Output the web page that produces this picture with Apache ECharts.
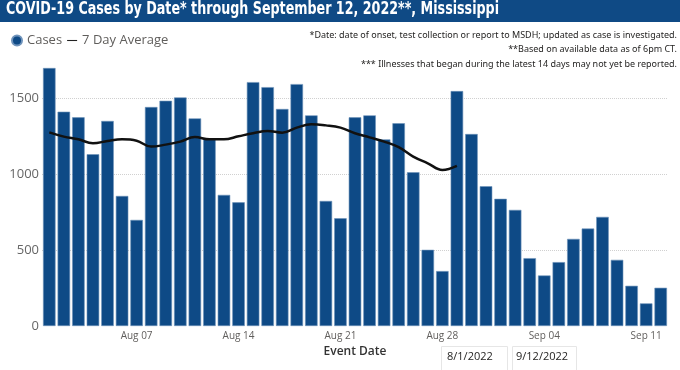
<!DOCTYPE html>
<html><head><meta charset="utf-8">
<script src="https://cdn.jsdelivr.net/npm/echarts@6/dist/echarts.min.js"></script>
<style>html,body{margin:0;padding:0;background:#fff}#c{width:680px;height:370px}</style>
</head><body><div id="c"></div>
<script>
const dates = ['Aug 01','Aug 02','Aug 03','Aug 04','Aug 05','Aug 06','Aug 07','Aug 08','Aug 09','Aug 10','Aug 11','Aug 12','Aug 13','Aug 14','Aug 15','Aug 16','Aug 17','Aug 18','Aug 19','Aug 20','Aug 21','Aug 22','Aug 23','Aug 24','Aug 25','Aug 26','Aug 27','Aug 28','Aug 29','Aug 30','Aug 31','Sep 01','Sep 02','Sep 03','Sep 04','Sep 05','Sep 06','Sep 07','Sep 08','Sep 09','Sep 10','Sep 11','Sep 12'];
const cases = [1700,1412,1375,1132,1351,857,699,1443,1484,1506,1368,1230,864,815,1607,1574,1430,1594,1388,824,710,1375,1388,1230,1336,1013,502,362,1548,1265,921,838,765,447,333,421,574,642,719,436,265,149,252];
const avg7 = [1276,1248,1230,1204,1219,1230,1221,1182,1195,1215,1245,1230,1230,1250,1270,1285,1274,1307,1329,1322,1307,1270,1243,1215,1178,1116,1072,1028,1055];
const tickLabels = ['Aug 07','Aug 14','Aug 21','Aug 28','Sep 04','Sep 11'];
const yTicks = [0,500,1000,1500];
const titleText = 'COVID-19 Cases by Date* through September 12, 2022**, Mississippi';
const notes = ['*Date: date of onset, test collection or report to MSDH; updated as case is investigated.','**Based on available data as of 6pm CT.','*** Illnesses that began during the latest 14 days may not yet be reported.'];
const dateRange = ['8/1/2022','9/12/2022'];

const chart = echarts.init(document.getElementById('c'), null, {renderer:'canvas'});
const barColor = '#0e4a86';
chart.setOption({
  animation:false,
  grid:{left:42,right:12,top:68,bottom:44},
  legend:{
    left:6, top:29, itemGap:5, itemWidth:10, itemHeight:10,
    textStyle:{color:'#605e5c', fontSize:13, fontFamily:'Open Sans'},
    data:[
      {name:'Cases', icon:'circle', itemStyle:{color:barColor}},
      {name:'7 Day Average', icon:'path://M0,4H14V5.5H0Z', itemStyle:{color:'#222'}}
    ]
  },
  xAxis:{
    type:'category', data:dates,
    name:'Event Date', nameLocation:'middle', nameGap:20,
    nameTextStyle:{color:'#333', fontSize:12, fontWeight:600, fontFamily:'Open Sans'},
    axisLine:{show:false}, axisTick:{show:false},
    axisLabel:{color:'#605e5c', fontSize:10, margin:5, fontFamily:'Open Sans',
      interval:(i,v)=>tickLabels.indexOf(v)>=0}
  },
  yAxis:{
    type:'value', min:0, max:1700, interval:500,
    axisLabel:{color:'#666', fontSize:13, margin:3, fontFamily:'Open Sans',
      showMaxLabel:false, formatter:v=>yTicks.indexOf(v)>=0?String(v):''},
    splitLine:{lineStyle:{type:'dotted', color:['transparent','#d0d0d0','#d0d0d0','#d0d0d0','transparent'], width:1}}
  },
  series:[
    {name:'Cases', type:'bar', data:cases, barCategoryGap:'14%',
     itemStyle:{color:barColor, borderColor:'#6f93bb', borderWidth:0.6}},
    {name:'7 Day Average', type:'line', data:avg7, smooth:0.4, symbol:'none',
     lineStyle:{color:'#111', width:2.5}, itemStyle:{color:'#111'}, z:5}
  ],
  graphic:[
    {type:'rect', left:0, top:0, shape:{width:680, height:22}, style:{fill:'#0f4a85'}},
    {type:'text', x:6, y:1, scaleX:0.83, style:{text:titleText, fill:'#fff', fontSize:17, fontWeight:'bold', fontFamily:'DejaVu Sans Condensed'}},
    {type:'text', right:3, top:31, style:{text:notes[0], fill:'#252423', fontSize:9, fontFamily:'Noto Sans', textAlign:'right'}},
    {type:'text', right:3, top:45, style:{text:notes[1], fill:'#252423', fontSize:9, fontFamily:'Noto Sans', textAlign:'right'}},
    {type:'text', right:3, top:60, style:{text:notes[2], fill:'#252423', fontSize:9, fontFamily:'Noto Sans', textAlign:'right'}},
    {type:'rect', left:441, top:346, shape:{width:66, height:30}, style:{fill:'#fff', stroke:'#e6e6e6', lineWidth:1}},
    {type:'rect', left:512, top:346, shape:{width:64, height:30}, style:{fill:'#fff', stroke:'#e6e6e6', lineWidth:1}},
    {type:'text', left:447, top:351, style:{text:dateRange[0], fill:'#252423', fontSize:11, fontFamily:'Open Sans'}},
    {type:'text', left:516, top:351, style:{text:dateRange[1], fill:'#252423', fontSize:11, fontFamily:'Open Sans'}}
  ]
});
</script></body></html>
